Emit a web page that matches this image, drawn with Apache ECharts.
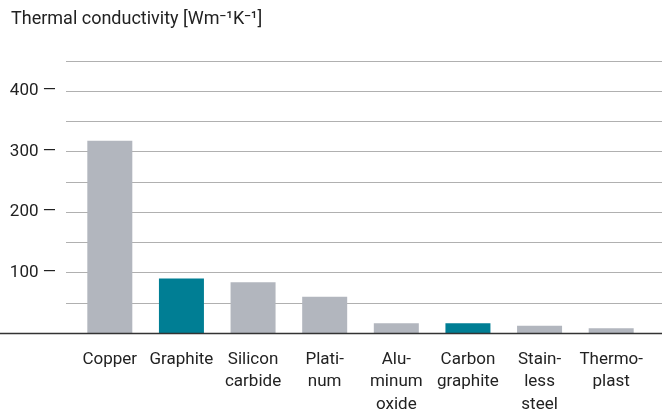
<!DOCTYPE html>
<html><head><meta charset="utf-8">
<script src="https://cdn.jsdelivr.net/npm/echarts@6/dist/echarts.min.js"></script>
<style>html,body{margin:0;padding:0;background:#fff}#c{width:662px;height:411px}</style>
</head><body><div id="c"></div>
<script>
const categories = ['Copper','Graphite','Silicon\ncarbide','Plati-\nnum','Alu-\nminum\noxide','Carbon\ngraphite','Stain-\nless\nsteel','Thermo-\nplast'];
const values = [318, 90, 84, 60, 16, 16, 12, 8];
const highlight = [false, true, false, false, false, true, false, false];
const yTicks = {min: 0, max: 450, interval: 50};
const labeledTicks = [100, 200, 300, 400];
const titleText = 'Thermal conductivity [Wm\u207B\u00B9K\u207B\u00B9]';

const FONT = 'Roboto';
const FS = 17;
const chart = echarts.init(document.getElementById('c'), null, {renderer: 'canvas'});
chart.setOption({
  animation: false,
  title: {text: titleText, left: 6, top: 5, textStyle: {fontFamily: FONT, fontSize: 18, fontWeight: 'normal', color: '#222'}},
  grid: [
    {left: 66, right: 0, top: 61, bottom: 78, outerBoundsMode: 'none', containLabel: false},
    {left: 74, right: 15, top: 61, bottom: 78, outerBoundsMode: 'none', containLabel: false}
  ],
  xAxis: [
    {gridIndex: 0, type: 'value', show: false, min: 0, max: 1},
    {gridIndex: 1, type: 'category', data: categories,
     axisLine: {show: false}, axisTick: {show: false},
     axisLabel: {fontFamily: FONT, fontSize: FS, color: '#222', margin: 15, lineHeight: 22.5, interval: 0, align: 'center'}}
  ],
  yAxis: [
    {gridIndex: 0, type: 'value', min: yTicks.min, max: yTicks.max, interval: yTicks.interval,
     axisLine: {show: false}, axisTick: {show: false},
     splitLine: {show: true, lineStyle: {color: '#b0b0b0', width: 1}},
     axisLabel: {fontFamily: FONT, fontSize: FS, color: '#222', margin: 10,
       formatter: v => labeledTicks.includes(v) ? v + ' \u2014' : ''}},
    {gridIndex: 1, type: 'value', min: yTicks.min, max: yTicks.max, interval: yTicks.interval, show: false}
  ],
  series: [{
    type: 'bar', xAxisIndex: 1, yAxisIndex: 1, barWidth: 45,
    data: values.map((v, i) => ({value: v, itemStyle: {color: highlight[i] ? '#007e94' : '#b2b6be'}}))
  }],
  graphic: [{type: 'line', shape: {x1: 0, y1: 333.5, x2: 662, y2: 333.5}, style: {stroke: '#333', lineWidth: 1.5}, z: 100}]
});
</script></body></html>
